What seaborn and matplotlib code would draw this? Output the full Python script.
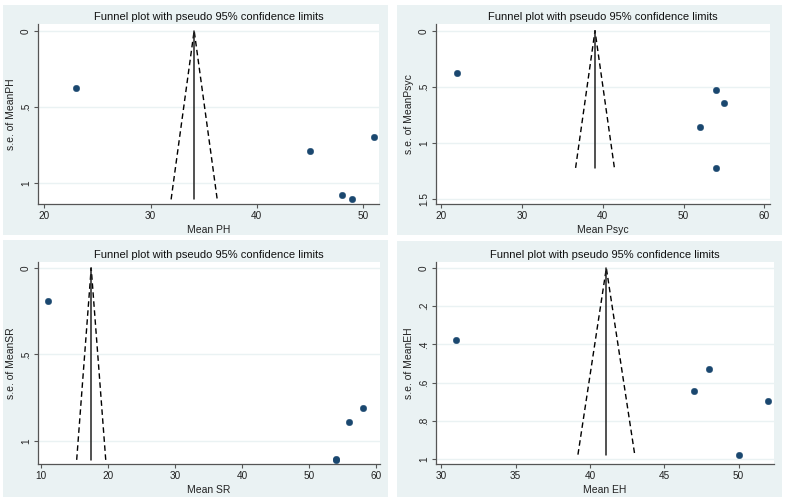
import numpy as np
import pandas as pd
import matplotlib
matplotlib.use("Agg")
import matplotlib.pyplot as plt
import seaborn as sns
from matplotlib.patches import Rectangle

# data
ph_mean = [23, 45, 51, 48, 49]
ph_se = [0.378, 0.79, 0.694, 1.076, 1.105]
ph_pooled = 34.1
ph_limits = [31.93, 36.27]
ph_se_max = 1.105

psyc_mean = [22, 54, 55, 52, 54]
psyc_se = [0.377, 0.525, 0.641, 0.861, 1.223]
psyc_pooled = 39.05
psyc_limits = [36.65, 41.45]
psyc_se_max = 1.223

sr_mean = [11, 58, 56, 54, 54]
sr_se = [0.188, 0.81, 0.893, 1.103, 1.11]
sr_pooled = 17.45
sr_limits = [15.28, 19.62]
sr_se_max = 1.11

eh_mean = [31, 48, 47, 52, 50]
eh_se = [0.377, 0.526, 0.642, 0.698, 0.977]
eh_pooled = 41.1
eh_limits = [39.19, 43.01]
eh_se_max = 0.977

names = ["PH", "Psyc", "SR", "EH"]
x_ticks = [[20, 30, 40, 50], [20, 30, 40, 50, 60], [10, 20, 30, 40, 50, 60], [30, 35, 40, 45, 50]]
y_ticks = [[0, 0.5, 1], [0, 0.5, 1, 1.5], [0, 0.5, 1], [0, 0.2, 0.4, 0.6, 0.8, 1]]

sns.set_theme(style="white")
plt.rcParams['font.family'] = ['Liberation Sans', 'DejaVu Sans']

W, H = 787, 501
fig = plt.figure(figsize=(W / 100, H / 100), dpi=100)
fig.patch.set_facecolor("white")

def box(x0, y0, x1, y1):
    return [x0 / W, 1 - y1 / H, (x1 - x0) / W, (y1 - y0) / H]

panel_bg = [(3, 5, 388, 235), (397, 5, 782, 235), (3, 240, 388, 497), (397, 241, 782, 497)]
plot_box = [(38, 24, 379, 204), (436, 24, 770, 204), (38, 262, 380, 464), (436, 262, 774, 464)]
xlims = [(19.4, 51.5), (19.38, 60.7), (9.5, 60.6), (29.64, 52.38)]
ylims = [(1.135, -0.044), (1.545, -0.06), (1.134, -0.035), (1.026, -0.032)]

bg_col = "#eaf2f3"
navy = "#1a476f"
axis_col = "#555555"

for b in panel_bg:
    l, bt, w, h = box(*b)
    fig.patches.append(Rectangle((l, bt), w, h, transform=fig.transFigure,
                                 facecolor=bg_col, edgecolor="none", zorder=-10))

sets = [
    (ph_mean, ph_se, ph_pooled, ph_limits, ph_se_max),
    (psyc_mean, psyc_se, psyc_pooled, psyc_limits, psyc_se_max),
    (sr_mean, sr_se, sr_pooled, sr_limits, sr_se_max),
    (eh_mean, eh_se, eh_pooled, eh_limits, eh_se_max),
]

def fmt(v):
    if v == 0:
        return "0"
    s = ("%g" % v)
    if s.startswith("0."):
        s = s[1:]
    return s

for i, (xs, ses, pooled, lims, semax) in enumerate(sets):
    ax = fig.add_axes(box(*plot_box[i]))
    ax.set_zorder(5)
    ax.set_facecolor("white")
    ax.set_xlim(*xlims[i])
    ax.set_ylim(*ylims[i])
    ax.set_yticks(y_ticks[i])
    ax.set_xticks(x_ticks[i])
    ax.set_yticklabels([fmt(v) for v in y_ticks[i]], rotation=90, va="center")
    ax.set_xticklabels([str(v) for v in x_ticks[i]])
    for v in y_ticks[i]:
        ax.axhline(v, color=bg_col, lw=1.0, zorder=0)

    # funnel
    ax.plot([lims[0], pooled, lims[1]], [semax, 0, semax], color="black",
            lw=1.0, ls=(0, (4, 2.5)), zorder=2)
    ax.plot([pooled, pooled], [0, semax], color="#222222", lw=1.1, zorder=2)

    df = pd.DataFrame({"x": xs, "se": ses})
    sns.scatterplot(data=df, x="x", y="se", ax=ax, color=navy, s=22,
                    edgecolor=navy, linewidth=0.3, zorder=3, legend=False)

    for side in ["top", "right"]:
        ax.spines[side].set_visible(False)
    for side in ["left", "bottom"]:
        ax.spines[side].set_color(axis_col)
        ax.spines[side].set_linewidth(0.9)
    ax.tick_params(axis="both", which="major", direction="out", length=3,
                   width=0.8, color=axis_col, labelsize=7.2, labelcolor="#222222",
                   pad=2, bottom=True, left=True)
    ax.set_xlabel("Mean " + names[i], fontsize=7.5, color="#222222", labelpad=3)
    ax.set_ylabel("s.e. of Mean" + names[i], fontsize=7.5, color="#222222", labelpad=4)
    ax.set_title("Funnel plot with pseudo 95% confidence limits", fontsize=8,
                 color="#111111", pad=3)

fig.savefig("out.png", dpi=100, facecolor="white")
